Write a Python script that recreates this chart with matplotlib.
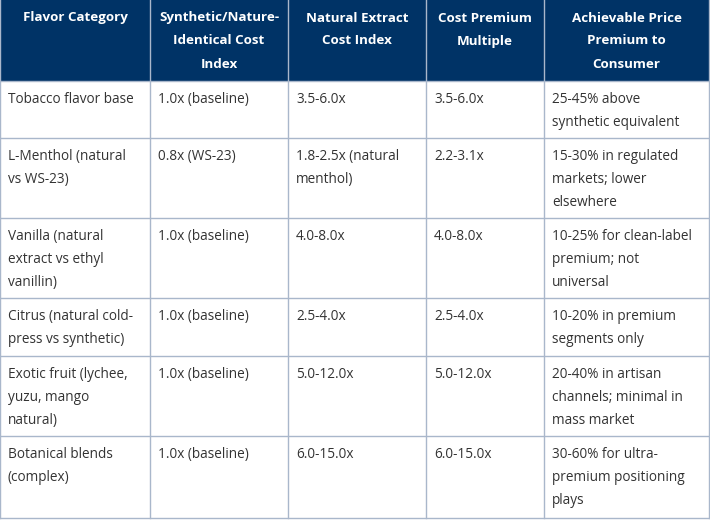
import matplotlib
matplotlib.use("Agg")
import matplotlib.pyplot as plt
from matplotlib.patches import Rectangle

plt.rcParams['font.family'] = ['Open Sans', 'DejaVu Sans']

headers = ["Flavor Category", "Synthetic/Nature-\nIdentical Cost\nIndex",
           "Natural Extract\nCost Index", "Cost Premium\nMultiple",
           "Achievable Price\nPremium to\nConsumer"]
categories = ["Tobacco flavor base", "L-Menthol (natural\nvs WS-23)",
              "Vanilla (natural\nextract vs ethyl\nvanillin)",
              "Citrus (natural cold-\npress vs synthetic)",
              "Exotic fruit (lychee,\nyuzu, mango\nnatural)",
              "Botanical blends\n(complex)"]
synthetic_idx = ["1.0x (baseline)", "0.8x (WS-23)", "1.0x (baseline)",
                 "1.0x (baseline)", "1.0x (baseline)", "1.0x (baseline)"]
natural_idx = ["3.5-6.0x", "1.8-2.5x (natural\nmenthol)", "4.0-8.0x",
               "2.5-4.0x", "5.0-12.0x", "6.0-15.0x"]
premium_mult = ["3.5-6.0x", "2.2-3.1x", "4.0-8.0x", "2.5-4.0x",
                "5.0-12.0x", "6.0-15.0x"]
price_premium = ["25-45% above\nsynthetic equivalent",
                 "15-30% in regulated\nmarkets; lower\nelsewhere",
                 "10-25% for clean-label\npremium; not\nuniversal",
                 "10-20% in premium\nsegments only",
                 "20-40% in artisan\nchannels; minimal in\nmass market",
                 "30-60% for ultra-\npremium positioning\nplays"]

col_x = [0, 150, 288, 426, 544, 709]
row_y = [0, 81, 138, 218, 298, 356, 436, 518]

header_color = "#003366"
border_color = "#a9b7cb"
text_color = "#333333"
line_h = 23

fig = plt.figure(figsize=(7.1, 5.2), dpi=100)
ax = fig.add_axes([0, 0, 1, 1])
ax.set_xlim(0, 710)
ax.set_ylim(520, 0)
ax.axis("off")

# header
ax.add_patch(Rectangle((0, 0), col_x[-1], row_y[1], color=header_color, lw=0))
for i, h in enumerate(headers):
    cx = (col_x[i] + col_x[i + 1]) / 2
    for k, line in enumerate(h.split("\n")):
        ax.text(cx, 18 + k * line_h, line, ha="center", va="center",
                color="white", fontsize=9.6, fontweight="bold")

columns = [categories, synthetic_idx, natural_idx, premium_mult, price_premium]
for r in range(len(categories)):
    top = row_y[r + 1]
    for c, col in enumerate(columns):
        for k, line in enumerate(col[r].split("\n")):
            ax.text(col_x[c] + 8, top + 18.5 + k * line_h, line, ha="left",
                    va="center", color=text_color, fontsize=9.8)

# grid lines
for y in row_y[1:]:
    ax.plot([0, col_x[-1]], [y, y], color=border_color, lw=1)
for x in col_x:
    ax.plot([x, x], [0, row_y[-1]], color=border_color, lw=1)

fig.savefig("out.png", dpi=100, facecolor="white")
